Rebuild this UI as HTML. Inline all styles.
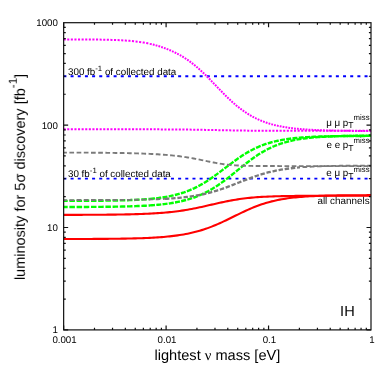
<!DOCTYPE html>
<html><head><meta charset="utf-8"><title>plot</title>
<style>
html,body{margin:0;padding:0;background:#fff;}
body{width:389px;height:375px;overflow:hidden;font-family:"Liberation Sans",sans-serif;}
svg{display:block;}
text{font-family:"Liberation Sans",sans-serif;fill:#000;}
</style></head><body>
<svg width="389" height="375" viewBox="0 0 389 375" style="will-change:transform;text-rendering:geometricPrecision">
<rect width="389" height="375" fill="#fff"/>
<g fill="none" stroke-linejoin="round">
<path d="M63.65,76.24H371.0" stroke="#0000ff" stroke-width="1.8" stroke-dasharray="3 4.17" stroke-dashoffset="0.24"/>
<path d="M63.65,178.64H371.0" stroke="#0000ff" stroke-width="1.8" stroke-dasharray="3 4.17" stroke-dashoffset="0.24"/>
<path d="M63.6,39.42 L65.7,39.42 L67.7,39.42 L69.7,39.43 L71.7,39.43 L73.7,39.44 L75.7,39.44 L77.7,39.45 L79.7,39.46 L81.7,39.47 L83.7,39.48 L85.7,39.49 L87.7,39.50 L89.7,39.51 L91.7,39.53 L93.7,39.55 L95.7,39.57 L97.7,39.59 L99.7,39.62 L101.7,39.65 L103.7,39.69 L105.7,39.73 L107.7,39.77 L109.7,39.82 L111.7,39.88 L113.7,39.94 L115.7,40.02 L117.7,40.10 L119.7,40.19 L121.7,40.30 L123.7,40.41 L125.7,40.54 L127.7,40.69 L129.7,40.85 L131.7,41.03 L133.7,41.24 L135.7,41.46 L137.7,41.71 L139.7,41.98 L141.7,42.28 L143.7,42.61 L145.7,42.96 L147.7,43.35 L149.7,43.78 L150.0,43.85" stroke="#ff00ff" stroke-width="2.0" stroke-dasharray="2.1 1.5"/>
<path d="M150.0,43.85 L152.0,44.32 L154.0,44.82 L156.0,45.35 L158.0,45.93 L160.0,46.54 L162.0,47.19 L164.0,47.88 L166.0,48.62 L168.0,49.40 L170.0,50.23 L172.0,51.10 L174.0,52.03 L176.0,53.00 L178.0,54.04 L180.0,55.14 L182.0,56.29 L184.0,57.52 L186.0,58.81 L188.0,60.17 L190.0,61.60 L192.0,63.11 L194.0,64.69 L196.0,66.34 L198.0,68.05 L200.0,69.84 L202.0,71.68 L204.0,73.58 L206.0,75.54 L208.0,77.53 L210.0,79.56 L212.0,81.62 L214.0,83.69 L216.0,85.77 L218.0,87.85 L220.0,89.92 L222.0,91.97 L224.0,94.00 L226.0,95.98 L228.0,97.93 L230.0,99.82 L232.0,101.66 L234.0,103.43 L236.0,105.15 L238.0,106.79 L240.0,108.36 L242.0,109.87 L244.0,111.30 L246.0,112.65 L248.0,113.94 L250.0,115.15 L252.0,116.29 L254.0,117.37 L256.0,118.38 L258.0,119.32 L260.0,120.21 L262.0,121.03 L264.0,121.80 L266.0,122.51 L268.0,123.18 L270.0,123.80 L272.0,124.37 L274.0,124.90 L276.0,125.39 L278.0,125.85 L280.0,126.27 L282.0,126.66 L284.0,127.02 L286.0,127.35 L288.0,127.65 L290.0,127.93 L292.0,128.19 L294.0,128.43 L296.0,128.65 L298.0,128.85 L300.0,129.03 L302.0,129.20 L304.0,129.36 L306.0,129.50 L308.0,129.64 L310.0,129.76 L312.0,129.87 L314.0,129.97 L316.0,130.06 L318.0,130.15 L320.0,130.23 L322.0,130.30 L324.0,130.37 L326.0,130.43 L328.0,130.48 L330.0,130.53 L332.0,130.58 L334.0,130.62 L336.0,130.66 L338.0,130.70 L340.0,130.73 L342.0,130.76 L344.0,130.79 L346.0,130.82 L348.0,130.84 L350.0,130.86 L352.0,130.88 L354.0,130.90 L356.0,130.91 L358.0,130.93 L360.0,130.94 L362.0,130.96 L364.0,130.97 L366.0,130.98 L368.0,130.99 L370.0,131.00 L371.0,131.00" stroke="#ff00ff" stroke-width="2.0" stroke-dasharray="1.8 1.1"/>
<path d="M63.6,129.30 L65.7,129.30 L67.7,129.30 L69.7,129.30 L71.7,129.30 L73.7,129.30 L75.7,129.30 L77.7,129.30 L79.7,129.30 L81.7,129.30 L83.7,129.30 L85.7,129.30 L87.7,129.30 L89.7,129.30 L91.7,129.30 L93.7,129.30 L95.7,129.30 L97.7,129.30 L99.7,129.30 L101.7,129.30 L103.7,129.30 L105.7,129.30 L107.7,129.30 L109.7,129.30 L111.7,129.30 L113.7,129.31 L115.7,129.31 L117.7,129.31 L119.7,129.31 L121.7,129.31 L123.7,129.31 L125.7,129.31 L127.7,129.31 L129.7,129.31 L131.7,129.31 L133.7,129.32 L135.7,129.32 L137.7,129.32 L139.7,129.32 L141.7,129.33 L143.7,129.33 L145.7,129.33 L147.7,129.34 L149.7,129.34 L151.7,129.34 L153.7,129.35 L155.7,129.36 L157.7,129.36 L159.7,129.37 L161.7,129.38 L163.7,129.38 L165.7,129.39 L167.7,129.40 L169.7,129.42 L171.7,129.43 L173.7,129.44 L175.7,129.46 L177.7,129.47 L179.7,129.49 L181.7,129.51 L183.7,129.53 L185.7,129.55 L187.7,129.58 L189.7,129.60 L191.7,129.63 L193.7,129.66 L195.7,129.69 L197.7,129.73 L199.7,129.76 L201.7,129.80 L203.7,129.84 L205.7,129.88 L207.7,129.92 L209.7,129.96 L211.7,130.00 L213.7,130.05 L215.7,130.09 L217.7,130.13 L219.7,130.17 L221.7,130.22 L223.7,130.26 L225.7,130.30 L227.7,130.34 L229.7,130.37 L231.7,130.41 L233.7,130.44 L235.7,130.48 L237.7,130.51 L239.7,130.54 L241.7,130.56 L243.7,130.59 L245.7,130.61 L247.7,130.63 L249.7,130.65 L251.7,130.67 L253.7,130.69 L255.7,130.70 L257.7,130.72 L259.7,130.73 L261.7,130.74 L263.7,130.75 L265.7,130.76 L267.7,130.77 L269.7,130.78 L271.7,130.79 L273.7,130.79 L275.7,130.80 L277.7,130.80 L279.7,130.81 L281.7,130.81 L283.7,130.82 L285.7,130.82 L287.7,130.82 L289.7,130.82 L291.7,130.83 L293.7,130.83 L295.7,130.83 L297.7,130.83 L299.7,130.83 L301.7,130.83 L303.7,130.83 L305.7,130.84 L307.7,130.84 L309.7,130.84 L311.7,130.83 L313.7,130.83 L315.7,130.83 L317.7,130.83 L319.7,130.83 L321.7,130.83 L323.7,130.82 L325.7,130.82 L327.7,130.81 L329.7,130.81 L331.7,130.80 L333.7,130.80 L335.7,130.79 L337.7,130.78 L339.7,130.77 L341.7,130.77 L343.7,130.76 L345.7,130.75 L347.7,130.75 L349.7,130.74 L351.7,130.73 L353.7,130.73 L355.7,130.73 L357.7,130.72 L359.7,130.72 L361.7,130.71 L363.7,130.71 L365.7,130.71 L367.7,130.71 L369.7,130.71 L371.0,130.71" stroke="#ff00ff" stroke-width="2.0" stroke-dasharray="2.1 1.5"/>
<path d="M63.6,200.90 L65.7,200.89 L67.7,200.89 L69.7,200.89 L71.7,200.88 L73.7,200.88 L75.7,200.87 L77.7,200.86 L79.7,200.86 L81.7,200.85 L83.7,200.84 L85.7,200.83 L87.7,200.82 L89.7,200.81 L91.7,200.79 L93.7,200.78 L95.7,200.76 L97.7,200.75 L99.7,200.73 L101.7,200.71 L103.7,200.69 L105.7,200.66 L107.7,200.64 L109.7,200.61 L111.7,200.58 L113.7,200.54 L115.7,200.51 L117.7,200.47 L119.7,200.42 L121.7,200.37 L123.7,200.32 L125.7,200.26 L127.7,200.19 L129.7,200.12 L131.7,200.05 L133.7,199.96 L135.7,199.87 L137.7,199.77 L139.7,199.66 L141.7,199.55 L143.7,199.42 L145.7,199.27 L147.7,199.12 L149.7,198.95 L150.0,198.92" stroke="#00ff00" stroke-width="2.4" stroke-dasharray="5.5 1.7" stroke-dashoffset="1.4"/>
<path d="M150.0,198.92 L152.0,198.73 L154.0,198.53 L156.0,198.31 L158.0,198.07 L160.0,197.81 L162.0,197.52 L164.0,197.21 L166.0,196.88 L168.0,196.52 L170.0,196.12 L172.0,195.70 L174.0,195.24 L176.0,194.74 L178.0,194.21 L180.0,193.64 L182.0,193.02 L184.0,192.36 L186.0,191.65 L188.0,190.89 L190.0,190.08 L192.0,189.22 L194.0,188.31 L196.0,187.34 L198.0,186.32 L200.0,185.24 L202.0,184.11 L204.0,182.93 L206.0,181.70 L208.0,180.42 L210.0,179.09 L212.0,177.72 L214.0,176.31 L216.0,174.87 L218.0,173.40 L220.0,171.91 L222.0,170.40 L224.0,168.88 L226.0,167.36 L228.0,165.84 L230.0,164.34 L232.0,162.84 L234.0,161.37 L236.0,159.93 L238.0,158.53 L240.0,157.16 L242.0,155.83 L244.0,154.55 L246.0,153.32 L248.0,152.15 L250.0,151.02 L252.0,149.95 L254.0,148.94 L256.0,147.98 L258.0,147.07 L260.0,146.22 L262.0,145.43 L264.0,144.68 L266.0,143.98 L268.0,143.33 L270.0,142.73 L272.0,142.17 L274.0,141.65 L276.0,141.17 L278.0,140.72 L280.0,140.31 L282.0,139.93 L284.0,139.58 L286.0,139.26 L288.0,138.97 L290.0,138.70 L292.0,138.45 L294.0,138.22 L296.0,138.02 L298.0,137.83 L300.0,137.65 L302.0,137.49 L304.0,137.35 L306.0,137.21 L308.0,137.09 L310.0,136.98 L312.0,136.88 L314.0,136.79 L316.0,136.70 L318.0,136.62 L320.0,136.55 L322.0,136.49 L324.0,136.43 L326.0,136.38 L328.0,136.33 L330.0,136.29 L332.0,136.25 L334.0,136.21 L336.0,136.18 L338.0,136.15 L340.0,136.12 L342.0,136.09 L344.0,136.07 L346.0,136.05 L348.0,136.03 L350.0,136.01 L352.0,136.00 L354.0,135.98 L356.0,135.97 L358.0,135.96 L360.0,135.95 L362.0,135.94 L364.0,135.93 L366.0,135.92 L368.0,135.91 L370.0,135.91 L371.0,135.90" stroke="#00ff00" stroke-width="2.4" stroke-dasharray="5.0 1.3"/>
<path d="M63.6,207.01 L65.7,207.01 L67.7,207.01 L69.7,207.00 L71.7,207.00 L73.7,206.99 L75.7,206.98 L77.7,206.98 L79.7,206.97 L81.7,206.96 L83.7,206.95 L85.7,206.95 L87.7,206.94 L89.7,206.92 L91.7,206.91 L93.7,206.90 L95.7,206.89 L97.7,206.87 L99.7,206.86 L101.7,206.84 L103.7,206.82 L105.7,206.80 L107.7,206.77 L109.7,206.75 L111.7,206.72 L113.7,206.69 L115.7,206.66 L117.7,206.63 L119.7,206.59 L121.7,206.55 L123.7,206.50 L125.7,206.46 L127.7,206.40 L129.7,206.35 L131.7,206.28 L133.7,206.22 L135.7,206.15 L137.7,206.07 L139.7,205.98 L141.7,205.89 L143.7,205.79 L145.7,205.68 L147.7,205.56 L149.7,205.43 L150.0,205.41" stroke="#00ff00" stroke-width="2.4" stroke-dasharray="5.5 1.7" stroke-dashoffset="1.4"/>
<path d="M150.0,205.41 L152.0,205.26 L154.0,205.11 L156.0,204.94 L158.0,204.76 L160.0,204.57 L162.0,204.35 L164.0,204.13 L166.0,203.88 L168.0,203.61 L170.0,203.32 L172.0,203.01 L174.0,202.67 L176.0,202.30 L178.0,201.91 L180.0,201.49 L182.0,201.03 L184.0,200.54 L186.0,200.01 L188.0,199.45 L190.0,198.84 L192.0,198.20 L194.0,197.50 L196.0,196.76 L198.0,195.98 L200.0,195.14 L202.0,194.25 L204.0,193.31 L206.0,192.31 L208.0,191.26 L210.0,190.15 L212.0,188.99 L214.0,187.77 L216.0,186.50 L218.0,185.18 L220.0,183.81 L222.0,182.39 L224.0,180.93 L226.0,179.43 L228.0,177.90 L230.0,176.33 L232.0,174.75 L234.0,173.14 L236.0,171.53 L238.0,169.91 L240.0,168.29 L242.0,166.68 L244.0,165.08 L246.0,163.51 L248.0,161.97 L250.0,160.46 L252.0,158.99 L254.0,157.56 L256.0,156.18 L258.0,154.85 L260.0,153.58 L262.0,152.36 L264.0,151.20 L266.0,150.09 L268.0,149.04 L270.0,148.05 L272.0,147.12 L274.0,146.25 L276.0,145.42 L278.0,144.66 L280.0,143.94 L282.0,143.27 L284.0,142.65 L286.0,142.07 L288.0,141.54 L290.0,141.04 L292.0,140.59 L294.0,140.16 L296.0,139.77 L298.0,139.42 L300.0,139.09 L302.0,138.78 L304.0,138.50 L306.0,138.25 L308.0,138.01 L310.0,137.80 L312.0,137.60 L314.0,137.42 L316.0,137.26 L318.0,137.11 L320.0,136.97 L322.0,136.84 L324.0,136.73 L326.0,136.63 L328.0,136.53 L330.0,136.44 L332.0,136.36 L334.0,136.29 L336.0,136.22 L338.0,136.16 L340.0,136.11 L342.0,136.06 L344.0,136.01 L346.0,135.97 L348.0,135.93 L350.0,135.90 L352.0,135.87 L354.0,135.84 L356.0,135.81 L358.0,135.79 L360.0,135.76 L362.0,135.74 L364.0,135.73 L366.0,135.71 L368.0,135.70 L370.0,135.68 L371.0,135.68" stroke="#00ff00" stroke-width="2.4" stroke-dasharray="5.0 1.3"/>
<path d="M63.6,152.58 L65.7,152.58 L67.7,152.59 L69.7,152.59 L71.7,152.60 L73.7,152.60 L75.7,152.61 L77.7,152.62 L79.7,152.63 L81.7,152.64 L83.7,152.65 L85.7,152.66 L87.7,152.67 L89.7,152.68 L91.7,152.69 L93.7,152.70 L95.7,152.72 L97.7,152.73 L99.7,152.75 L101.7,152.77 L103.7,152.78 L105.7,152.80 L107.7,152.83 L109.7,152.85 L111.7,152.87 L113.7,152.90 L115.7,152.93 L117.7,152.96 L119.7,152.99 L121.7,153.03 L123.7,153.06 L125.7,153.10 L127.7,153.15 L129.7,153.19 L131.7,153.24 L133.7,153.29 L135.7,153.35 L137.7,153.41 L139.7,153.47 L141.7,153.54 L143.7,153.62 L145.7,153.70 L147.7,153.78 L149.7,153.87 L151.7,153.97 L153.7,154.07 L155.7,154.18 L157.7,154.30 L159.7,154.43 L161.7,154.57 L163.7,154.71 L165.7,154.87 L167.7,155.04 L169.7,155.22 L171.7,155.41 L173.7,155.61 L175.7,155.83 L177.7,156.06 L179.7,156.31 L181.7,156.57 L183.7,156.85 L185.7,157.14 L187.7,157.45 L189.7,157.78 L191.7,158.12 L193.7,158.48 L195.7,158.86 L197.7,159.24 L199.7,159.65 L201.7,160.06 L203.7,160.47 L205.7,160.89 L207.7,161.31 L209.7,161.73 L211.7,162.14 L213.7,162.53 L215.7,162.91 L217.7,163.27 L219.7,163.60 L221.7,163.91 L223.7,164.20 L225.7,164.45 L227.7,164.68 L229.7,164.88 L231.7,165.06 L233.7,165.22 L235.7,165.35 L237.7,165.47 L239.7,165.56 L241.7,165.65 L243.7,165.72 L245.7,165.78 L247.7,165.83 L249.7,165.87 L251.7,165.91 L253.7,165.94 L255.7,165.97 L257.7,165.99 L259.7,166.00 L261.7,166.02 L263.7,166.03 L265.7,166.04 L267.7,166.05 L269.7,166.06 L271.7,166.06 L273.7,166.07 L275.7,166.07 L277.7,166.07 L279.7,166.08 L281.7,166.08 L283.7,166.08 L285.7,166.08 L287.7,166.08 L289.7,166.09 L291.7,166.09 L293.7,166.09 L295.7,166.09 L297.7,166.09 L299.7,166.09 L301.7,166.09 L303.7,166.09 L305.7,166.09 L307.7,166.09 L309.7,166.09 L311.7,166.09 L313.7,166.09 L315.7,166.09 L317.7,166.09 L319.7,166.09 L321.7,166.09 L323.7,166.09 L325.7,166.09 L327.7,166.09 L329.7,166.09 L331.7,166.09 L333.7,166.09 L335.7,166.09 L337.7,166.09 L339.7,166.09 L341.7,166.09 L343.7,166.09 L345.7,166.09 L347.7,166.09 L349.7,166.09 L351.7,166.09 L353.7,166.09 L355.7,166.09 L357.7,166.09 L359.7,166.09 L361.7,166.09 L363.7,166.09 L365.7,166.09 L367.7,166.09 L369.7,166.09 L371.0,166.09" stroke="#7a7a7a" stroke-width="1.9" stroke-dasharray="4.7 2.5" stroke-dashoffset="1.4"/>
<path d="M63.6,200.08 L65.7,200.08 L67.7,200.08 L69.7,200.08 L71.7,200.08 L73.7,200.08 L75.7,200.07 L77.7,200.07 L79.7,200.07 L81.7,200.07 L83.7,200.06 L85.7,200.06 L87.7,200.06 L89.7,200.05 L91.7,200.05 L93.7,200.04 L95.7,200.04 L97.7,200.03 L99.7,200.03 L101.7,200.02 L103.7,200.01 L105.7,200.00 L107.7,200.00 L109.7,199.99 L111.7,199.98 L113.7,199.96 L115.7,199.95 L117.7,199.94 L119.7,199.92 L121.7,199.91 L123.7,199.89 L125.7,199.87 L127.7,199.85 L129.7,199.83 L131.7,199.80 L133.7,199.78 L135.7,199.75 L137.7,199.71 L139.7,199.68 L141.7,199.64 L143.7,199.60 L145.7,199.55 L147.7,199.51 L149.7,199.45 L151.7,199.39 L153.7,199.33 L155.7,199.26 L157.7,199.18 L159.7,199.10 L161.7,199.01 L163.7,198.92 L165.0,198.85" stroke="#7a7a7a" stroke-width="1.9" stroke-dasharray="4.7 2.5" stroke-dashoffset="1.4"/>
<path d="M165.0,198.85 L167.0,198.74 L169.0,198.62 L171.0,198.49 L173.0,198.34 L175.0,198.19 L177.0,198.02 L179.0,197.84 L181.0,197.65 L183.0,197.44 L185.0,197.21 L187.0,196.97 L189.0,196.71 L191.0,196.42 L193.0,196.12 L195.0,195.80 L197.0,195.45 L199.0,195.08 L201.0,194.68 L203.0,194.26 L205.0,193.81 L207.0,193.33 L209.0,192.83 L211.0,192.30 L213.0,191.74 L215.0,191.15 L217.0,190.54 L219.0,189.90 L221.0,189.24 L223.0,188.55 L225.0,187.84 L227.0,187.11 L229.0,186.36 L231.0,185.60 L233.0,184.83 L235.0,184.04 L237.0,183.25 L239.0,182.46 L241.0,181.67 L243.0,180.88 L245.0,180.10 L247.0,179.32 L249.0,178.57 L251.0,177.82 L253.0,177.10 L255.0,176.40 L257.0,175.72 L259.0,175.07 L261.0,174.44 L263.0,173.84 L265.0,173.27 L267.0,172.72 L269.0,172.20 L271.0,171.72 L273.0,171.26 L275.0,170.82 L277.0,170.42 L279.0,170.04 L281.0,169.69 L283.0,169.36 L285.0,169.05 L287.0,168.76 L289.0,168.50 L291.0,168.26 L293.0,168.03 L295.0,167.82 L297.0,167.63 L299.0,167.45 L300.0,167.37" stroke="#7a7a7a" stroke-width="2.3" stroke-dasharray="4.4 1.8"/>
<path d="M300.0,167.37 L302.0,167.21 L304.0,167.07 L306.0,166.93 L308.0,166.81 L310.0,166.70 L312.0,166.60 L314.0,166.51 L316.0,166.42 L318.0,166.34 L320.0,166.27 L322.0,166.21 L324.0,166.15 L326.0,166.09 L328.0,166.04 L330.0,166.00 L332.0,165.95 L334.0,165.92 L336.0,165.88 L338.0,165.85 L340.0,165.82 L342.0,165.79 L344.0,165.77 L346.0,165.75 L348.0,165.73 L350.0,165.71 L352.0,165.69 L354.0,165.68 L356.0,165.67 L358.0,165.65 L360.0,165.64 L362.0,165.63 L364.0,165.62 L366.0,165.61 L368.0,165.60 L370.0,165.60 L371.0,165.59" stroke="#7a7a7a" stroke-width="1.9" stroke-dasharray="4.7 2.5" stroke-dashoffset="4.66"/>
<path d="M63.6,214.87 L65.7,214.87 L67.7,214.86 L69.7,214.86 L71.7,214.85 L73.7,214.85 L75.7,214.84 L77.7,214.84 L79.7,214.83 L81.7,214.83 L83.7,214.82 L85.7,214.81 L87.7,214.80 L89.7,214.79 L91.7,214.79 L93.7,214.77 L95.7,214.76 L97.7,214.75 L99.7,214.74 L101.7,214.72 L103.7,214.71 L105.7,214.69 L107.7,214.67 L109.7,214.65 L111.7,214.63 L113.7,214.61 L115.7,214.58 L117.7,214.55 L119.7,214.52 L121.7,214.49 L123.7,214.46 L125.7,214.42 L127.7,214.38 L129.7,214.33 L131.7,214.28 L133.7,214.23 L135.7,214.17 L137.7,214.11 L139.7,214.05 L141.7,213.98 L143.7,213.90 L145.7,213.82 L147.7,213.73 L149.7,213.63 L151.7,213.53 L153.7,213.41 L155.7,213.29 L157.7,213.16 L159.7,213.02 L161.7,212.87 L163.7,212.71 L165.7,212.53 L167.7,212.35 L169.7,212.15 L171.7,211.94 L173.7,211.71 L175.7,211.47 L177.7,211.21 L179.7,210.94 L181.7,210.65 L183.7,210.35 L185.7,210.03 L187.7,209.69 L189.7,209.33 L191.7,208.96 L193.7,208.58 L195.7,208.18 L197.7,207.77 L199.7,207.34 L201.7,206.91 L203.7,206.46 L205.7,206.01 L207.7,205.55 L209.7,205.08 L211.7,204.62 L213.7,204.15 L215.7,203.69 L217.7,203.24 L219.7,202.79 L221.7,202.35 L223.7,201.92 L225.7,201.51 L227.7,201.11 L229.7,200.72 L231.7,200.35 L233.7,200.00 L235.7,199.67 L237.7,199.36 L239.7,199.06 L241.7,198.79 L243.7,198.53 L245.7,198.29 L247.7,198.06 L249.7,197.85 L251.7,197.66 L253.7,197.49 L255.7,197.32 L257.7,197.17 L259.7,197.04 L261.7,196.91 L263.7,196.80 L265.7,196.69 L267.7,196.60 L269.7,196.51 L271.7,196.43 L273.7,196.36 L275.7,196.29 L277.7,196.24 L279.7,196.18 L281.7,196.13 L283.7,196.09 L285.7,196.05 L287.7,196.01 L289.7,195.98 L291.7,195.95 L293.7,195.93 L295.7,195.90 L297.7,195.88 L299.7,195.86 L301.7,195.85 L303.7,195.83 L305.7,195.82 L307.7,195.80 L309.7,195.79 L311.7,195.78 L313.7,195.77 L315.7,195.76 L317.7,195.76 L319.7,195.75 L321.7,195.74 L323.7,195.74 L325.7,195.73 L327.7,195.73 L329.7,195.72 L331.7,195.72 L333.7,195.72 L335.7,195.71 L337.7,195.71 L339.7,195.71 L341.7,195.71 L343.7,195.71 L345.7,195.70 L347.7,195.70 L349.7,195.70 L351.7,195.70 L353.7,195.70 L355.7,195.70 L357.7,195.70 L359.7,195.70 L361.7,195.69 L363.7,195.69 L365.7,195.69 L367.7,195.69 L369.7,195.69 L371.0,195.69" stroke="#ff0000" stroke-width="2.1"/>
<path d="M63.6,239.01 L65.7,239.01 L67.7,239.00 L69.7,239.00 L71.7,238.99 L73.7,238.99 L75.7,238.99 L77.7,238.98 L79.7,238.98 L81.7,238.97 L83.7,238.96 L85.7,238.96 L87.7,238.95 L89.7,238.94 L91.7,238.93 L93.7,238.92 L95.7,238.91 L97.7,238.90 L99.7,238.89 L101.7,238.88 L103.7,238.86 L105.7,238.85 L107.7,238.83 L109.7,238.81 L111.7,238.79 L113.7,238.77 L115.7,238.75 L117.7,238.72 L119.7,238.69 L121.7,238.66 L123.7,238.63 L125.7,238.59 L127.7,238.56 L129.7,238.51 L131.7,238.47 L133.7,238.42 L135.7,238.37 L137.7,238.31 L139.7,238.24 L141.7,238.18 L143.7,238.10 L145.7,238.02 L147.7,237.94 L149.7,237.84 L151.7,237.74 L153.7,237.63 L155.7,237.51 L157.7,237.38 L159.7,237.24 L161.7,237.09 L163.7,236.93 L165.7,236.76 L167.7,236.57 L169.7,236.36 L171.7,236.14 L173.7,235.90 L175.7,235.65 L177.7,235.37 L179.7,235.08 L181.7,234.76 L183.7,234.42 L185.7,234.05 L187.7,233.66 L189.7,233.25 L191.7,232.80 L193.7,232.33 L195.7,231.82 L197.7,231.29 L199.7,230.72 L201.7,230.12 L203.7,229.48 L205.7,228.82 L207.7,228.12 L209.7,227.38 L211.7,226.62 L213.7,225.82 L215.7,224.99 L217.7,224.14 L219.7,223.25 L221.7,222.34 L223.7,221.41 L225.7,220.47 L227.7,219.50 L229.7,218.53 L231.7,217.54 L233.7,216.55 L235.7,215.56 L237.7,214.58 L239.7,213.60 L241.7,212.64 L243.7,211.69 L245.7,210.76 L247.7,209.85 L249.7,208.97 L251.7,208.11 L253.7,207.29 L255.7,206.50 L257.7,205.74 L259.7,205.01 L261.7,204.32 L263.7,203.66 L265.7,203.04 L267.7,202.46 L269.7,201.91 L271.7,201.39 L273.7,200.91 L275.7,200.45 L277.7,200.03 L279.7,199.64 L281.7,199.27 L283.7,198.93 L285.7,198.62 L287.7,198.33 L289.7,198.06 L291.7,197.81 L293.7,197.58 L295.7,197.37 L297.7,197.18 L299.7,197.00 L301.7,196.83 L303.7,196.68 L305.7,196.55 L307.7,196.42 L309.7,196.30 L311.7,196.20 L313.7,196.10 L315.7,196.01 L317.7,195.93 L319.7,195.86 L321.7,195.79 L323.7,195.73 L325.7,195.67 L327.7,195.62 L329.7,195.57 L331.7,195.53 L333.7,195.49 L335.7,195.45 L337.7,195.42 L339.7,195.39 L341.7,195.36 L343.7,195.34 L345.7,195.32 L347.7,195.30 L349.7,195.28 L351.7,195.26 L353.7,195.24 L355.7,195.23 L357.7,195.22 L359.7,195.21 L361.7,195.20 L363.7,195.19 L365.7,195.18 L367.7,195.17 L369.7,195.16 L371.0,195.16" stroke="#ff0000" stroke-width="2.1"/>
</g>
<g fill="none" stroke="#111" stroke-width="1.2">
<rect x="63.65" y="22.7" width="307.35" height="307.20"/>
<path d="M63.65,329.9v-4.5 M63.65,22.7v4.5 M63.65,329.90h4.5 M371.0,329.90h-4.5 M94.49,329.9v-2.1 M94.49,22.7v2.1 M63.65,299.07h2.1 M371.0,299.07h-2.1 M112.53,329.9v-2.1 M112.53,22.7v2.1 M63.65,281.04h2.1 M371.0,281.04h-2.1 M125.33,329.9v-2.1 M125.33,22.7v2.1 M63.65,268.25h2.1 M371.0,268.25h-2.1 M135.26,329.9v-2.1 M135.26,22.7v2.1 M63.65,258.33h2.1 M371.0,258.33h-2.1 M143.37,329.9v-2.1 M143.37,22.7v2.1 M63.65,250.22h2.1 M371.0,250.22h-2.1 M150.23,329.9v-2.1 M150.23,22.7v2.1 M63.65,243.36h2.1 M371.0,243.36h-2.1 M156.17,329.9v-2.1 M156.17,22.7v2.1 M63.65,237.42h2.1 M371.0,237.42h-2.1 M161.41,329.9v-2.1 M161.41,22.7v2.1 M63.65,232.19h2.1 M371.0,232.19h-2.1 M166.10,329.9v-4.5 M166.10,22.7v4.5 M63.65,227.50h4.5 M371.0,227.50h-4.5 M196.94,329.9v-2.1 M196.94,22.7v2.1 M63.65,196.67h2.1 M371.0,196.67h-2.1 M214.98,329.9v-2.1 M214.98,22.7v2.1 M63.65,178.64h2.1 M371.0,178.64h-2.1 M227.78,329.9v-2.1 M227.78,22.7v2.1 M63.65,165.85h2.1 M371.0,165.85h-2.1 M237.71,329.9v-2.1 M237.71,22.7v2.1 M63.65,155.93h2.1 M371.0,155.93h-2.1 M245.82,329.9v-2.1 M245.82,22.7v2.1 M63.65,147.82h2.1 M371.0,147.82h-2.1 M252.68,329.9v-2.1 M252.68,22.7v2.1 M63.65,140.96h2.1 M371.0,140.96h-2.1 M258.62,329.9v-2.1 M258.62,22.7v2.1 M63.65,135.02h2.1 M371.0,135.02h-2.1 M263.86,329.9v-2.1 M263.86,22.7v2.1 M63.65,129.79h2.1 M371.0,129.79h-2.1 M268.55,329.9v-4.5 M268.55,22.7v4.5 M63.65,125.10h4.5 M371.0,125.10h-4.5 M299.39,329.9v-2.1 M299.39,22.7v2.1 M63.65,94.27h2.1 M371.0,94.27h-2.1 M317.43,329.9v-2.1 M317.43,22.7v2.1 M63.65,76.24h2.1 M371.0,76.24h-2.1 M330.23,329.9v-2.1 M330.23,22.7v2.1 M63.65,63.45h2.1 M371.0,63.45h-2.1 M340.16,329.9v-2.1 M340.16,22.7v2.1 M63.65,53.53h2.1 M371.0,53.53h-2.1 M348.27,329.9v-2.1 M348.27,22.7v2.1 M63.65,45.42h2.1 M371.0,45.42h-2.1 M355.13,329.9v-2.1 M355.13,22.7v2.1 M63.65,38.56h2.1 M371.0,38.56h-2.1 M361.07,329.9v-2.1 M361.07,22.7v2.1 M63.65,32.62h2.1 M371.0,32.62h-2.1 M366.31,329.9v-2.1 M366.31,22.7v2.1 M63.65,27.39h2.1 M371.0,27.39h-2.1"/>
</g>
<g font-size="9.7" opacity="0.999"><text x="64.5" y="342.6" text-anchor="middle">0.001</text><text x="167.0" y="342.6" text-anchor="middle">0.01</text><text x="269.4" y="342.6" text-anchor="middle">0.1</text><text x="371.9" y="342.6" text-anchor="middle">1</text><text x="57.9" y="333.3" text-anchor="end">1</text><text x="57.9" y="230.9" text-anchor="end">10</text><text x="57.9" y="128.5" text-anchor="end">100</text><text x="57.9" y="26.1" text-anchor="end">1000</text></g>
<g font-size="9.8" opacity="0.999">
<text x="68" y="74.8">300 fb<tspan dy="-4.0" font-size="7.8">-1</tspan><tspan dy="4.0"> of collected data</tspan></text>
<text x="68" y="176.8">30 fb<tspan dy="-4.0" font-size="7.8">-1</tspan><tspan dy="4.0"> of collected data</tspan></text>
<text x="369.6" y="125.5" text-anchor="end">μ μ p<tspan dy="2.6" font-size="8.6">T</tspan><tspan dy="-8.3" font-size="7.8">miss</tspan></text>
<text x="369.6" y="148.4" text-anchor="end">e e p<tspan dy="2.6" font-size="8.6">T</tspan><tspan dy="-8.3" font-size="7.8">miss</tspan></text>
<text x="369.6" y="176.3" text-anchor="end">e μ p<tspan dy="2.6" font-size="8.6">T</tspan><tspan dy="-7.0" font-size="7.8">miss</tspan></text>
<text x="369.6" y="204.2" text-anchor="end" font-size="9.9">all channels</text>
</g>
<g font-size="14.6" opacity="0.999">
<text x="347.4" y="316.0" text-anchor="middle">IH</text>
<text x="217.4" y="359.5" text-anchor="middle">lightest <tspan font-family="Liberation Serif">ν</tspan> mass [eV]</text>
<text transform="translate(24.8,177.0) rotate(-90)" text-anchor="middle" font-size="14.5">luminosity for 5σ discovery [fb<tspan dy="-8" font-size="11.6">-1</tspan><tspan dy="8">]</tspan></text>
</g>
</svg>
</body></html>
